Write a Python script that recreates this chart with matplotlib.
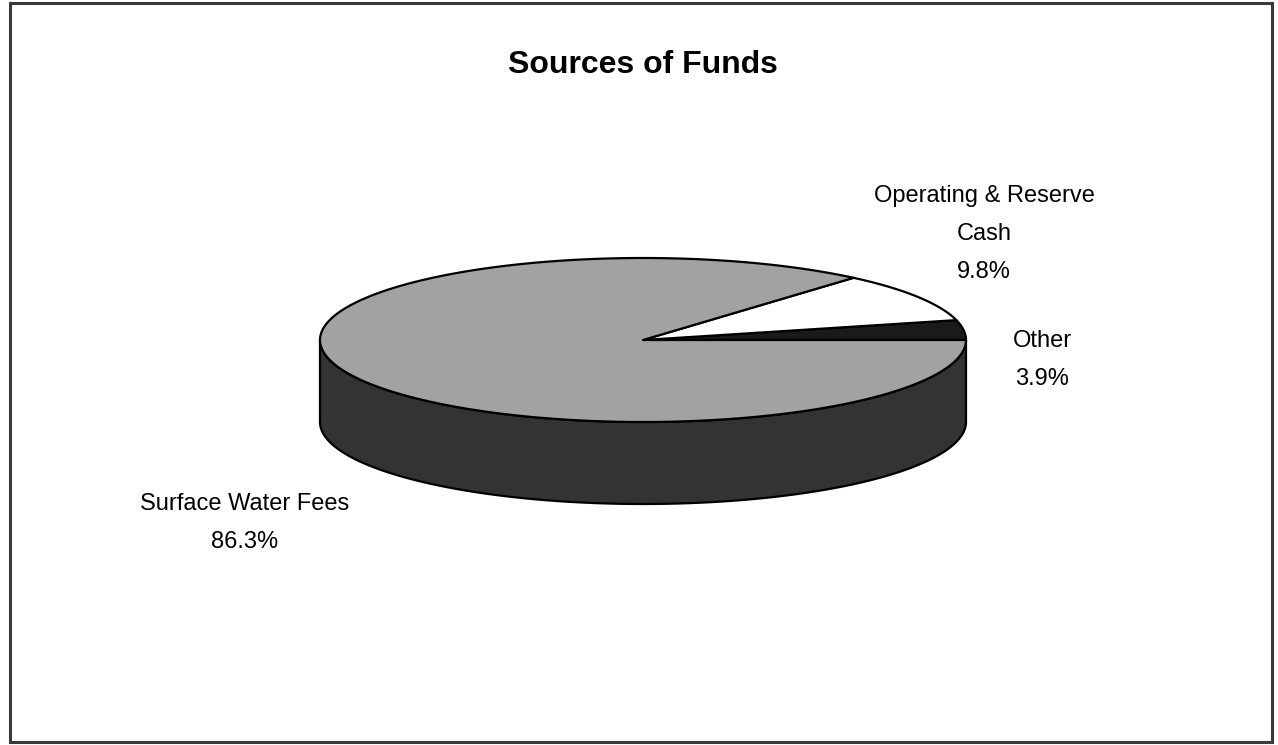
import numpy as np
import matplotlib.pyplot as plt
from matplotlib.patches import Polygon, Rectangle

labels = ['Other', 'Operating & Reserve\nCash', 'Surface Water Fees']
shares = [3.9, 9.8, 86.3]
top_colors = ['#1a1a1a', '#ffffff', '#a2a2a2']
side_color = '#333333'

plt.rcParams['font.family'] = ['Liberation Sans', 'DejaVu Sans']

# pie geometry in pixel units
cx, cy = 643, 340
rx, ry = 323, 82
depth = 82


def rim(a0, a1, n=200):
    t = np.radians(np.linspace(a0, a1, n))
    return np.column_stack([cx + rx*np.cos(t), cy - ry*np.sin(t)])


fig = plt.figure(figsize=(12.78, 7.45), dpi=100)
ax = fig.add_axes([0, 0, 1, 1])
ax.set_xlim(0, 1278)
ax.set_ylim(745, 0)
ax.axis('off')

# side wall (front half)
front = rim(180, 360)
wall = np.vstack([front, (front + [0, depth])[::-1]])
ax.add_patch(Polygon(wall, closed=True, fc=side_color, ec='black', lw=1.6, zorder=1))

# top wedges
angles = np.concatenate([[0], np.cumsum(shares) / sum(shares) * 360])
for i, c in enumerate(top_colors):
    pts = np.vstack([[cx, cy], rim(angles[i], angles[i+1])])
    ax.add_patch(Polygon(pts, closed=True, fc=c, ec='black', lw=1.6,
                         joinstyle='round', zorder=2))

# labels
fs = 17
ax.text(984, 234, labels[1] + '\n%.1f%%' % shares[1], ha='center', va='center',
        fontsize=fs, linespacing=1.92)
ax.text(1042, 360, labels[0] + '\n%.1f%%' % shares[0], ha='center', va='center',
        fontsize=fs, linespacing=1.92)
ax.text(245, 523, labels[2] + '\n%.1f%%' % shares[2], ha='center', va='center',
        fontsize=fs, linespacing=1.92)

ax.text(643, 65, 'Sources of Funds', ha='center', va='center',
        fontsize=23, fontweight='bold')

fig.add_artist(Rectangle((10/1278, 3/745), 1262/1278, 739/745,
                         transform=fig.transFigure, fill=False,
                         ec='#3a3a3a', lw=2.2))

fig.savefig('out.png', dpi=100)
